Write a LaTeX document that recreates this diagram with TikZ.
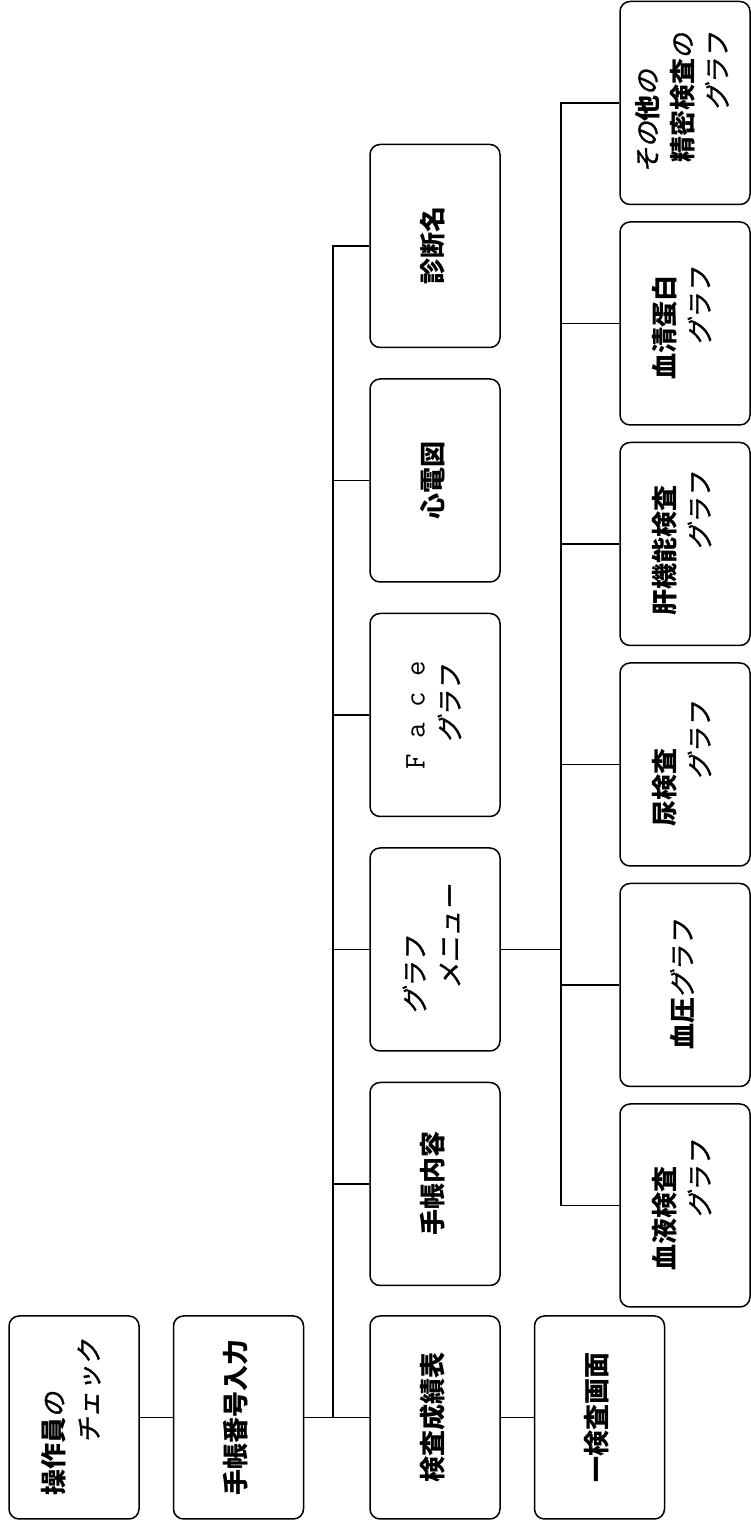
\documentclass[tikz,border=0pt]{standalone}
\usepackage{fontspec}
\setmainfont{Noto Sans CJK JP}
\newfontfamily\kanafont{Noto Sans CJK JP}[FakeSlant=0.2,FakeBold=1.2]
\usepackage{graphicx}
\usepackage{tikz}
\usetikzlibrary{positioning}

\newcommand{\kana}[1]{{\kanafont\mdseries #1}}
\newcommand{\vtxt}[1]{\rotatebox{90}{\begin{tabular}{@{}l@{}}#1\end{tabular}}}

\tikzset{
  menubox/.style={draw, line width=1.5pt, rounded corners=10pt,
    minimum width=130pt, minimum height=203pt, inner sep=0pt,
    font=\fontsize{26}{35}\selectfont\bfseries},
  link/.style={line width=1.4pt}
}

\begin{document}
\begin{tikzpicture}[x=1pt,y=1pt]
  \useasboundingbox (0,0) rectangle (751,1521);

  % Fila inferior
  \node[menubox] (opchk) at (74,103.5) {\vtxt{操作員\kana{の}\\\hspace*{2em}\kana{チェック}}};
  \node[menubox, right=33pt of opchk] (nbin) {\vtxt{手帳番号入力}};
  \node[menubox, right=65pt of nbin] (kensa) {\vtxt{検査成績表}};
  \node[menubox, right=33pt of kensa] (ichiken) {\vtxt{一検査画面}};

  % Menu del medio
  \node[menubox, above=29pt of kensa] (techo) {\vtxt{手帳内容}};
  \node[menubox, above=30pt of techo] (gmenu) {\vtxt{\kana{グラフ}\\\hspace*{1em}\kana{メニュー}}};
  \node[menubox, above=30pt of gmenu] (face) {\vtxt{{\ttfamily\mdseries\fontsize{30}{35}\selectfont F a c e}\\\hspace*{1em}\kana{グラフ}}};
  \node[menubox, above=30pt of face] (ecg) {\vtxt{心電図}};
  \node[menubox, above=30pt of ecg] (shindan) {\vtxt{診断名}};

  % Graficas
  \node[menubox] (ketsueki) at (685,315.5) {\vtxt{血液検査\\\hspace*{2em}\kana{グラフ}}};
  \node[menubox, above=16pt of ketsueki] (ketsuatsu) {\vtxt{血圧\kana{グラフ}}};
  \node[menubox, above=16pt of ketsuatsu] (nyou) {\vtxt{尿検査\\\hspace*{1.8em}\kana{グラフ}}};
  \node[menubox, above=16pt of nyou] (kanki) {\vtxt{肝機能検査\\\hspace*{2.5em}\kana{グラフ}}};
  \node[menubox, above=16pt of kanki] (kessei) {\vtxt{血清蛋白\\\hspace*{1.3em}\kana{グラフ}}};
  \node[menubox, above=16pt of kessei] (sonota) {\vtxt{\kana{その}他\kana{の}\\\hspace*{0.4em}精密検査\kana{の}\\\hspace*{2.4em}\kana{グラフ}}};

  % Lineas
  \coordinate (trunk) at (333,103.5);
  \coordinate (rtrunk) at (561,0);
  \draw[link] (opchk) -- (nbin);
  \draw[link] (nbin) -- (kensa);
  \draw[link] (kensa) -- (ichiken);
  \draw[link] (trunk) |- (shindan);
  \foreach \n in {techo,gmenu,face,ecg}
    \draw[link] (\n.west) -- (\n.west -| trunk);
  \draw[link] (gmenu.east) -- (gmenu.east -| rtrunk);
  \draw[link] (sonota.west) -| (rtrunk |- ketsueki.west) -- (ketsueki.west);
  \foreach \n in {kessei,kanki,nyou,ketsuatsu}
    \draw[link] (\n.west) -- (\n.west -| rtrunk);
\end{tikzpicture}
\end{document}
